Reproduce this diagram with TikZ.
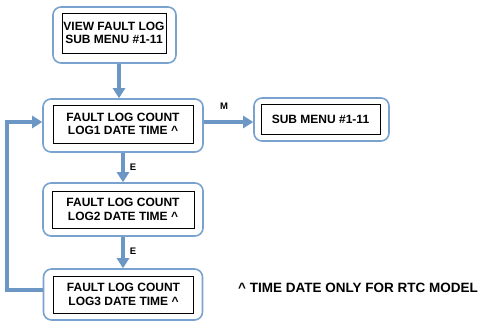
\documentclass[tikz,border=0pt]{standalone}
\usepackage{fontspec}
\setmainfont{Liberation Sans}
\usetikzlibrary{arrows.meta}
\definecolor{lineblue}{RGB}{108,150,196}
\definecolor{boxblue}{RGB}{122,162,206}
\tikzset{
  outerbox/.style={draw=boxblue, line width=1.6pt, rounded corners=8pt, fill=white, inner sep=0pt},
  innerbox/.style={draw=black, line width=0.8pt, inner sep=0pt, align=center,
    font=\fontsize{12}{13.5}\selectfont\bfseries},
  flow/.style={draw=lineblue, line width=4pt, -{Triangle[width=12pt,length=10pt]}},
  keylabel/.style={font=\fontsize{9.5}{11}\selectfont\bfseries}
}
\begin{document}
\begin{tikzpicture}[x=1pt,y=-1pt]
\useasboundingbox (0,0) rectangle (485,321);
% Outer rounded boxes
\node[outerbox, minimum width=123pt, minimum height=56pt] (view) at (114.5,35) {};
\node[outerbox, minimum width=160pt, minimum height=53pt] (log1) at (123,125.5) {};
\node[outerbox, minimum width=160pt, minimum height=53pt] (log2) at (123,209.5) {};
\node[outerbox, minimum width=159pt, minimum height=51pt] (log3) at (123,294.5) {};
\node[outerbox, minimum width=135pt, minimum height=43pt] (sub) at (321.5,119.5) {};
% Inner frames with text
\node[innerbox, minimum width=104pt, minimum height=40pt] (viewtxt) at (114,33) {VIEW FAULT LOG\\SUB MENU \#1-11};
\node[innerbox, minimum width=140pt, minimum height=38pt] (log1txt) at (123,124) {FAULT LOG COUNT\\LOG1 DATE TIME \^{}};
\node[innerbox, minimum width=142pt, minimum height=37pt] (log2txt) at (123,209.5) {FAULT LOG COUNT\\LOG2 DATE TIME \^{}};
\node[innerbox, minimum width=140pt, minimum height=37pt] (log3txt) at (123.5,294.5) {FAULT LOG COUNT\\LOG3 DATE TIME \^{}};
\node[innerbox, minimum width=119pt, minimum height=30pt] (subtxt) at (320.5,119) {SUB MENU \#1-11};
% Connectors
\draw[flow] ([xshift=4.5pt]view.south) -- ([xshift=4.5pt]view.south |- log1.north);
\draw[flow] (log1.south) -- (log2.north);
\draw[flow] (log2.south) -- (log3.north);
\draw[flow] ([yshift=3.5pt]log1.east) -- ([yshift=3.5pt]log1.east -| sub.west);
\draw[flow] ([yshift=4.5pt]log3.west) -- ++(-35.5,0) |- ([yshift=3.5pt]log1.west);
% Key labels
\node[keylabel] (mkey) at (224,106) {M};
\node[keylabel] (ekey1) at (133,167) {E};
\node[keylabel] (ekey2) at (133,251) {E};
% Footnote
\node[font=\fontsize{13.5}{15}\selectfont\bfseries] (note) at (358,288) {\^{} TIME DATE ONLY FOR RTC MODEL};
\end{tikzpicture}
\end{document}
